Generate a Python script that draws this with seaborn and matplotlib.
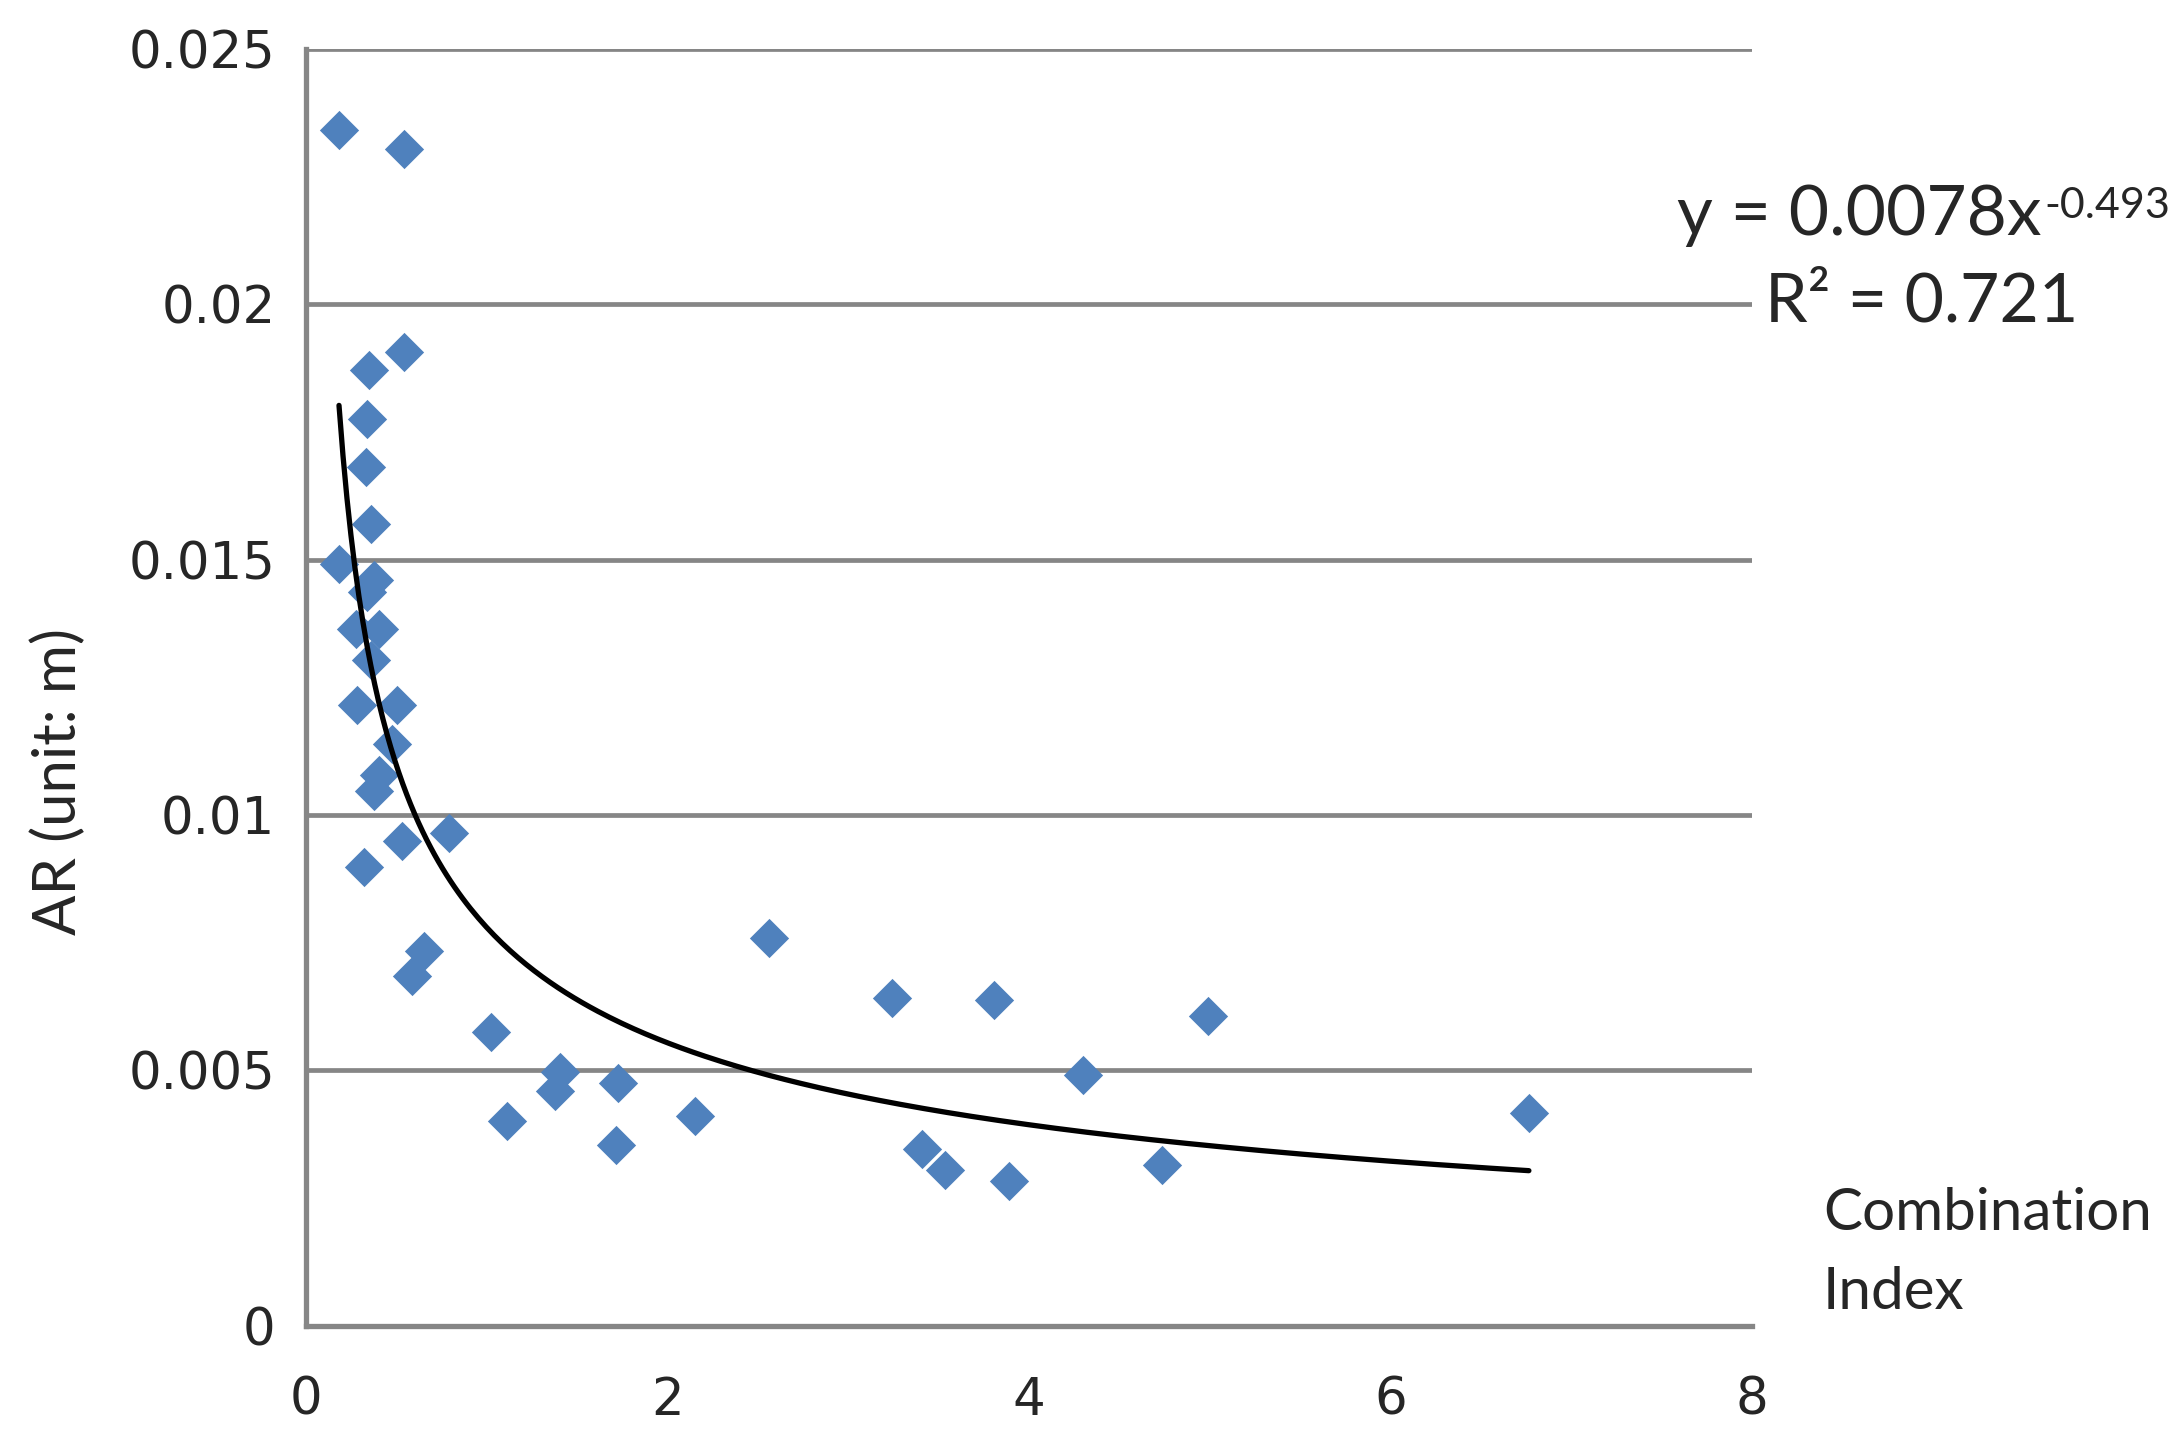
import numpy as np
import pandas as pd
import matplotlib
matplotlib.use("Agg")
import matplotlib.pyplot as plt
from matplotlib.ticker import FuncFormatter
import seaborn as sns


# -----------------------
# Data
# -----------------------
combination_index = [
    0.183, 0.542, 0.542, 0.348, 0.339, 0.334, 0.358, 0.183, 0.376, 0.339,
    0.276, 0.404, 0.358, 0.284, 0.505, 0.477, 0.404, 0.376, 0.790, 0.532,
    0.321, 0.652, 0.587, 2.563, 1.024, 3.240, 3.804, 1.405, 1.377, 1.725,
    4.298, 1.110, 2.153, 1.716, 3.409, 3.536, 3.888, 4.735, 4.990, 6.765,
]
ar_values = [
    0.02341, 0.02304, 0.01906, 0.01871, 0.01775, 0.01681, 0.01569, 0.01492, 0.01461, 0.01436,
    0.01364, 0.01364, 0.01303, 0.01216, 0.01216, 0.01139, 0.01078, 0.01047, 0.00965, 0.00950,
    0.00899, 0.00733, 0.00684, 0.00759, 0.00576, 0.00642, 0.00638, 0.00498, 0.00459, 0.00475,
    0.00492, 0.00402, 0.00410, 0.00355, 0.00346, 0.00306, 0.00283, 0.00315, 0.00607, 0.00416,
]

# power trendline reported on the chart
trend_coef = 0.0078
trend_exp = -0.493
r_squared = 0.721

x_ticks = [0, 2, 4, 6, 8]
y_ticks = [0, 0.005, 0.01, 0.015, 0.02, 0.025]

df = pd.DataFrame({"ci": combination_index, "ar": ar_values})

trend_x = np.linspace(min(combination_index), max(combination_index), 300)
trend = pd.DataFrame({"ci": trend_x, "ar": trend_coef * trend_x ** trend_exp})


# -----------------------
# Style
# -----------------------
sns.set_style("white")
plt.rcParams["font.family"] = ["Lato", "DejaVu Sans"]

grey = "#868686"
blue = "#4F81BD"


# -----------------------
# Plot
# -----------------------
fig, ax = plt.subplots(figsize=(10.91, 7.2), dpi=200)
fig.subplots_adjust(left=0.1402, right=0.8030, top=0.9662, bottom=0.0792)

sns.scatterplot(
    data=df, x="ci", y="ar",
    marker="D", s=100, color=blue, linewidth=0,
    ax=ax, zorder=3
)

sns.lineplot(
    data=trend, x="ci", y="ar",
    color="black", linewidth=1.9,
    ax=ax, zorder=4
)

ax.set_xlim(0, 8)
ax.set_ylim(0, 0.025)
ax.set_xticks(x_ticks)
ax.set_yticks(y_ticks)
ax.yaxis.set_major_formatter(FuncFormatter(lambda v, p: f"{v:g}"))

for lab in ax.get_xticklabels() + ax.get_yticklabels():
    lab.set_fontfamily("DejaVu Sans")
    lab.set_fontsize(18.5)

ax.yaxis.grid(True, color=grey, linewidth=1.7)
ax.xaxis.grid(False)
ax.set_axisbelow(True)

for side in ["top", "right"]:
    ax.spines[side].set_visible(False)
for side in ["left", "bottom"]:
    ax.spines[side].set_color(grey)
    ax.spines[side].set_linewidth(1.9)

ax.tick_params(axis="both", direction="out", length=6, width=1.5, color=grey)
ax.tick_params(axis="y", pad=5)
ax.tick_params(axis="x", pad=12)

ax.set_ylabel("AR (unit: m)", fontsize=21.5)
ax.yaxis.set_label_coords(-0.152, 0.426)

ax.set_xlabel("Combination\nIndex", fontsize=21, ha="left", va="center",
              multialignment="left", linespacing=1.6)
ax.xaxis.set_label_coords(1.049, 0.057)

# equation: base text plus a raised, smaller exponent
eq = ax.text(0.948, 0.869, "y = 0.0078x", transform=ax.transAxes,
             ha="left", va="center", fontsize=25, clip_on=False)
fig.canvas.draw()
bb = eq.get_window_extent().transformed(ax.transAxes.inverted())
ax.text(bb.x1 + 0.002, bb.y1 - 0.002, f"{trend_exp}", transform=ax.transAxes,
        ha="left", va="top", fontsize=15.5, clip_on=False)

ax.text(1.117, 0.801, f"R² = {r_squared}", transform=ax.transAxes,
        ha="center", va="center", fontsize=24.5, clip_on=False)

plt.savefig("out.png", dpi=200)
